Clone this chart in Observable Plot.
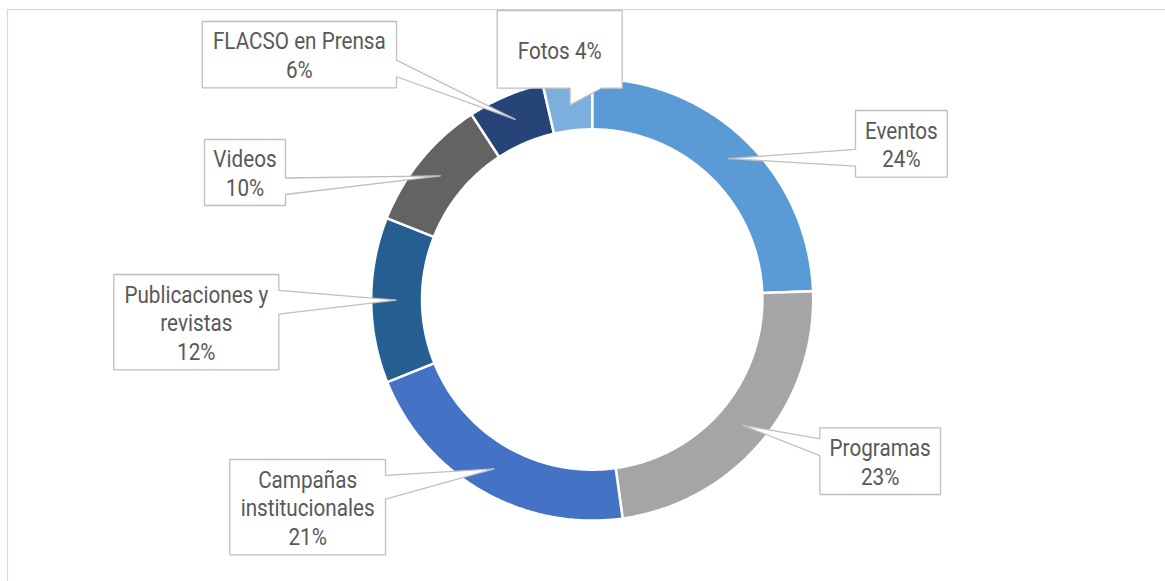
<!DOCTYPE html>
<html>
<head>
<meta charset="utf-8">
<script src="https://cdn.jsdelivr.net/npm/d3@7"></script>
<script src="https://cdn.jsdelivr.net/npm/@observablehq/plot@0.6"></script>
<style>
  html, body { margin: 0; padding: 0; background: #fff; overflow: hidden; }
  #chart svg { display: block; }
</style>
</head>
<body>
<div id="chart"></div>
<script>
// ---- data ----
const categories = ["Eventos", "Programas", "Campañas institucionales", "Publicaciones y revistas", "Videos", "FLACSO en Prensa", "Fotos"];
const values = [24.4, 23.4, 21.1, 12.1, 9.8, 5.6, 3.6];
const colors = ["#5B9BD5", "#A5A5A5", "#4472C4", "#255E91", "#636363", "#264478", "#7CAFDD"];
// label text as wrapped in the chart
const labelNames = ["Eventos", "Programas", "Campañas\ninstitucionales", "Publicaciones y\nrevistas", "Videos", "FLACSO en Prensa", "Fotos"];
const labelSeparators = ["\n", "\n", "\n", "\n", "\n", "\n", " "];

// ---- layout (units = outer radius, origin = donut centre, y up) ----
const labelBoxes = [ // [left, top, right, bottom]
  [1.1914, 0.8552, 1.6063, 0.5534],
  [1.0299, -0.5805, 1.5760, -0.8824],
  [-1.6398, -0.7240, -0.9353, -1.1552],
  [-2.1647, 0.1131, -1.4181, -0.3181],
  [-1.7543, 0.7240, -1.3878, 0.4253],
  [-1.7647, 1.2579, -0.8855, 0.9579],
  [-0.4299, 1.3077, 0.1357, 0.9561]
];
const W = 1165, H = 581, PX = 221, CX = 591.7, CY = 299;
const innerRatio = 0.77;

// ---- geometry from values ----
const total = d3.sum(values);
let cum = 0;
const slices = categories.map((c, i) => {
  const a0 = cum / total * 2 * Math.PI;
  cum += values[i];
  const a1 = cum / total * 2 * Math.PI;
  return {c, i, a0, a1, mid: (a0 + a1) / 2, pct: Math.round(values[i] / total * 100)};
});

const ringPts = slices.flatMap(s => {
  const n = Math.max(4, Math.ceil((s.a1 - s.a0) / 0.01));
  const pts = [];
  for (let k = 0; k <= n; k++) {
    const a = s.a0 + (s.a1 - s.a0) * k / n;
    pts.push({c: s.c, x: Math.sin(a), y: Math.cos(a)});
  }
  for (let k = n; k >= 0; k--) {
    const a = s.a0 + (s.a1 - s.a0) * k / n;
    pts.push({c: s.c, x: innerRatio * Math.sin(a), y: innerRatio * Math.cos(a)});
  }
  return pts;
});

// Excel "wedgeRectCallout" outline
function callout(box, tip) {
  const [l, t, r, b] = box;
  const w = r - l, h = t - b, hc = (l + r) / 2, vc = (t + b) / 2;
  const dx = tip[0] - hc, dyDown = vc - tip[1];
  const dq = dx * h / w;
  const dz = Math.abs(dyDown) - Math.abs(dq);
  const x1 = l + w * (dx > 0 ? 7 : 2) / 12, x2 = l + w * (dx > 0 ? 10 : 5) / 12;
  const y1 = t - h * (dyDown > 0 ? 7 : 2) / 12, y2 = t - h * (dyDown > 0 ? 10 : 5) / 12;
  const side = dz > 0 ? (dyDown < 0 ? "top" : "bottom") : (dx < 0 ? "left" : "right");
  const P = [[l, t]];
  if (side === "top") P.push([x1, t], tip, [x2, t]);
  P.push([r, t]);
  if (side === "right") P.push([r, y1], tip, [r, y2]);
  P.push([r, b]);
  if (side === "bottom") P.push([x2, b], tip, [x1, b]);
  P.push([l, b]);
  if (side === "left") P.push([l, y2], tip, [l, y1]);
  return P;
}

const midR = (1 + innerRatio) / 2;
const calloutPts = slices.flatMap(s => {
  const tip = [midR * Math.sin(s.mid), midR * Math.cos(s.mid)];
  return callout(labelBoxes[s.i], tip).map(([x, y]) => ({c: s.c, x, y}));
});

const labels = slices.map(s => {
  const [l, t, r, b] = labelBoxes[s.i];
  return {x: (l + r) / 2, y: (t + b) / 2, text: labelNames[s.i] + labelSeparators[s.i] + s.pct + "%"};
});

const frame = [{x1: (7.5 - CX) / PX, y1: (CY - 9.5) / PX, x2: (W + 5 - CX) / PX, y2: -(H + 5 - CY) / PX}];

const plot = Plot.plot({
  width: W,
  height: H,
  margin: 0,
  x: {axis: null, domain: [-CX / PX, (W - CX) / PX]},
  y: {axis: null, domain: [-(H - CY) / PX, CY / PX]},
  color: {domain: categories, range: colors},
  style: {background: "#fff", fontFamily: "Roboto, 'Noto Sans', sans-serif"},
  marks: [
    Plot.rect(frame, {x1: "x1", y1: "y1", x2: "x2", y2: "y2", fill: "none", stroke: "#d9d9d9", strokeWidth: 1.25}),
    Plot.line(ringPts, {x: "x", y: "y", z: "c", fill: "c", stroke: "white", strokeWidth: 2.5, curve: "linear-closed", strokeLinejoin: "miter"}),
    Plot.line(calloutPts, {x: "x", y: "y", z: "c", fill: "white", stroke: "#bfbfbf", strokeWidth: 1.3, curve: "linear-closed", strokeLinejoin: "miter"}),
    Plot.text(labels, {x: "x", y: "y", text: "text", fontSize: 23.5, lineHeight: 1.22, lineAnchor: "middle", fill: "#595959", fontFamily: "Roboto"})
  ]
});

// condense the label glyphs horizontally (chart uses a condensed face)
plot.querySelectorAll('g[aria-label="text"] text').forEach(t => {
  const tr = t.getAttribute("transform");
  if (tr && tr.includes("translate")) {
    t.setAttribute("transform", tr + " scale(0.88,1)");
  } else {
    const x = +t.getAttribute("x") || 0;
    t.setAttribute("transform", `translate(${x},0) scale(0.88,1) translate(${-x},0)`);
  }
});

document.getElementById("chart").appendChild(plot);
</script>
</body>
</html>
